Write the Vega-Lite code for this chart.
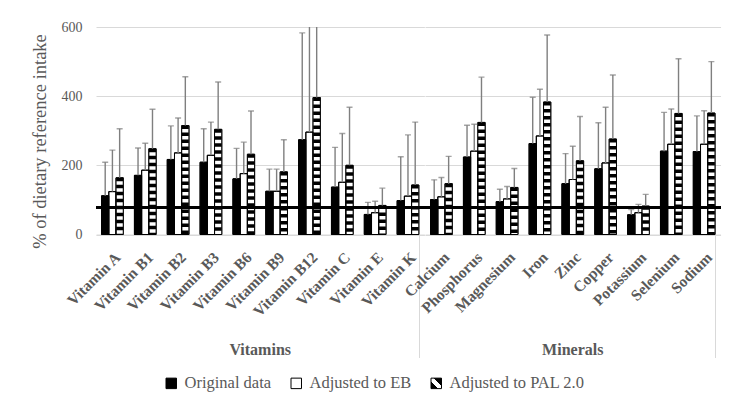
{
  "$schema": "https://vega.github.io/schema/vega-lite/v6.json",
  "background": "white",
  "padding": {"left": 30, "top": 20, "right": 20, "bottom": 10},
  "data": {"values": [
    {"nutrient": "Vitamin A", "group": "Vitamins", "series": "Original data", "value": 112, "upper": 209},
    {"nutrient": "Vitamin A", "group": "Vitamins", "series": "Adjusted to EB", "value": 124, "upper": 244},
    {"nutrient": "Vitamin A", "group": "Vitamins", "series": "Adjusted to PAL 2.0", "value": 164, "upper": 306},
    {"nutrient": "Vitamin B1", "group": "Vitamins", "series": "Original data", "value": 171, "upper": 250},
    {"nutrient": "Vitamin B1", "group": "Vitamins", "series": "Adjusted to EB", "value": 186, "upper": 264},
    {"nutrient": "Vitamin B1", "group": "Vitamins", "series": "Adjusted to PAL 2.0", "value": 248, "upper": 362},
    {"nutrient": "Vitamin B2", "group": "Vitamins", "series": "Original data", "value": 217, "upper": 314},
    {"nutrient": "Vitamin B2", "group": "Vitamins", "series": "Adjusted to EB", "value": 236, "upper": 337},
    {"nutrient": "Vitamin B2", "group": "Vitamins", "series": "Adjusted to PAL 2.0", "value": 315, "upper": 456},
    {"nutrient": "Vitamin B3", "group": "Vitamins", "series": "Original data", "value": 209, "upper": 306},
    {"nutrient": "Vitamin B3", "group": "Vitamins", "series": "Adjusted to EB", "value": 229, "upper": 325},
    {"nutrient": "Vitamin B3", "group": "Vitamins", "series": "Adjusted to PAL 2.0", "value": 304, "upper": 441},
    {"nutrient": "Vitamin B6", "group": "Vitamins", "series": "Original data", "value": 161, "upper": 249},
    {"nutrient": "Vitamin B6", "group": "Vitamins", "series": "Adjusted to EB", "value": 176, "upper": 267},
    {"nutrient": "Vitamin B6", "group": "Vitamins", "series": "Adjusted to PAL 2.0", "value": 232, "upper": 357},
    {"nutrient": "Vitamin B9", "group": "Vitamins", "series": "Original data", "value": 125, "upper": 189},
    {"nutrient": "Vitamin B9", "group": "Vitamins", "series": "Adjusted to EB", "value": 125, "upper": 189},
    {"nutrient": "Vitamin B9", "group": "Vitamins", "series": "Adjusted to PAL 2.0", "value": 181, "upper": 274},
    {"nutrient": "Vitamin B12", "group": "Vitamins", "series": "Original data", "value": 274, "upper": 583},
    {"nutrient": "Vitamin B12", "group": "Vitamins", "series": "Adjusted to EB", "value": 296, "upper": 700},
    {"nutrient": "Vitamin B12", "group": "Vitamins", "series": "Adjusted to PAL 2.0", "value": 396, "upper": 760},
    {"nutrient": "Vitamin C", "group": "Vitamins", "series": "Original data", "value": 137, "upper": 252},
    {"nutrient": "Vitamin C", "group": "Vitamins", "series": "Adjusted to EB", "value": 151, "upper": 292},
    {"nutrient": "Vitamin C", "group": "Vitamins", "series": "Adjusted to PAL 2.0", "value": 200, "upper": 368},
    {"nutrient": "Vitamin E", "group": "Vitamins", "series": "Original data", "value": 58, "upper": 93},
    {"nutrient": "Vitamin E", "group": "Vitamins", "series": "Adjusted to EB", "value": 63, "upper": 96},
    {"nutrient": "Vitamin E", "group": "Vitamins", "series": "Adjusted to PAL 2.0", "value": 84, "upper": 134},
    {"nutrient": "Vitamin K", "group": "Vitamins", "series": "Original data", "value": 98, "upper": 225},
    {"nutrient": "Vitamin K", "group": "Vitamins", "series": "Adjusted to EB", "value": 111, "upper": 288},
    {"nutrient": "Vitamin K", "group": "Vitamins", "series": "Adjusted to PAL 2.0", "value": 143, "upper": 325},
    {"nutrient": "Calcium", "group": "Minerals", "series": "Original data", "value": 101, "upper": 158},
    {"nutrient": "Calcium", "group": "Minerals", "series": "Adjusted to EB", "value": 109, "upper": 165},
    {"nutrient": "Calcium", "group": "Minerals", "series": "Adjusted to PAL 2.0", "value": 147, "upper": 226},
    {"nutrient": "Phosphorus", "group": "Minerals", "series": "Original data", "value": 224, "upper": 316},
    {"nutrient": "Phosphorus", "group": "Minerals", "series": "Adjusted to EB", "value": 241, "upper": 319},
    {"nutrient": "Phosphorus", "group": "Minerals", "series": "Adjusted to PAL 2.0", "value": 324, "upper": 455},
    {"nutrient": "Magnesium", "group": "Minerals", "series": "Original data", "value": 95, "upper": 131},
    {"nutrient": "Magnesium", "group": "Minerals", "series": "Adjusted to EB", "value": 103, "upper": 139},
    {"nutrient": "Magnesium", "group": "Minerals", "series": "Adjusted to PAL 2.0", "value": 136, "upper": 191},
    {"nutrient": "Iron", "group": "Minerals", "series": "Original data", "value": 263, "upper": 397},
    {"nutrient": "Iron", "group": "Minerals", "series": "Adjusted to EB", "value": 285, "upper": 420},
    {"nutrient": "Iron", "group": "Minerals", "series": "Adjusted to PAL 2.0", "value": 383, "upper": 577},
    {"nutrient": "Zinc", "group": "Minerals", "series": "Original data", "value": 147, "upper": 234},
    {"nutrient": "Zinc", "group": "Minerals", "series": "Adjusted to EB", "value": 159, "upper": 255},
    {"nutrient": "Zinc", "group": "Minerals", "series": "Adjusted to PAL 2.0", "value": 213, "upper": 341},
    {"nutrient": "Copper", "group": "Minerals", "series": "Original data", "value": 190, "upper": 323},
    {"nutrient": "Copper", "group": "Minerals", "series": "Adjusted to EB", "value": 207, "upper": 368},
    {"nutrient": "Copper", "group": "Minerals", "series": "Adjusted to PAL 2.0", "value": 276, "upper": 461},
    {"nutrient": "Potassium", "group": "Minerals", "series": "Original data", "value": 57, "upper": 72},
    {"nutrient": "Potassium", "group": "Minerals", "series": "Adjusted to EB", "value": 63, "upper": 87},
    {"nutrient": "Potassium", "group": "Minerals", "series": "Adjusted to PAL 2.0", "value": 82, "upper": 116},
    {"nutrient": "Selenium", "group": "Minerals", "series": "Original data", "value": 241, "upper": 353},
    {"nutrient": "Selenium", "group": "Minerals", "series": "Adjusted to EB", "value": 261, "upper": 363},
    {"nutrient": "Selenium", "group": "Minerals", "series": "Adjusted to PAL 2.0", "value": 350, "upper": 508},
    {"nutrient": "Sodium", "group": "Minerals", "series": "Original data", "value": 240, "upper": 343},
    {"nutrient": "Sodium", "group": "Minerals", "series": "Adjusted to EB", "value": 261, "upper": 358},
    {"nutrient": "Sodium", "group": "Minerals", "series": "Adjusted to PAL 2.0", "value": 351, "upper": 500}
  ]},
  "facet": {
    "column": {
      "field": "group", "type": "nominal", "sort": ["Vitamins", "Minerals"], "title": null,
      "header": {"labelOrient": "bottom", "labelFont": "Liberation Serif", "labelFontWeight": "bold", "labelFontSize": 16, "labelColor": "#595959", "labelPadding": 107}
    }
  },
  "spacing": 0,
  "bounds": "flush",
  "resolve": {"scale": {"x": "independent", "xOffset": "independent"}},
  "spec": {
    "width": {"step": 32.84, "for": "position"},
    "height": 207.5,
    "layer": [
      {
        "mark": {"type": "bar", "stroke": "black", "strokeWidth": 1},
        "encoding": {
          "x": {"field": "nutrient", "type": "nominal", "sort": null,
            "scale": {"paddingInner": 0.34, "paddingOuter": 0.17},
            "axis": {"title": null, "labelAngle": -45, "labelFontWeight": "bold", "labelFontSize": 15.5, "labelPadding": -108,
              "ticks": true, "tickBand": "extent", "tickOffset": 5.58, "tickSize": 123, "tickColor": "#d9d9d9", "tickWidth": 1,
              "tickOpacity": {"condition": {"test": "datum.index !== -1 && (datum.value === 'Vitamin K' || datum.value === 'Sodium')", "value": 1}, "value": 0},
              "domainColor": "#d9d9d9"}},
          "xOffset": {"field": "series", "type": "nominal",
            "scale": {"domain": ["Original data", "Adjusted to EB", "Adjusted to PAL 2.0"], "paddingInner": 0, "paddingOuter": 0}},
          "y": {"field": "value", "type": "quantitative",
            "scale": {"domain": [0, 600], "nice": false},
            "axis": {"title": "% of dietary reference intake", "values": [0, 100, 200, 300, 400, 500, 600], "ticks": false, "domain": false, "labelPadding": 14, "titleFontSize": 18.5, "titleFontWeight": "normal", "titlePadding": 12, "titleY": 114, "gridColor": "#d9d9d9"}},
          "fill": {"field": "series", "type": "nominal",
            "scale": {"domain": ["Original data", "Adjusted to EB", "Adjusted to PAL 2.0"],
              "range": ["black", "white", {"expr": "{gradient: 'linear', x1: 1, y1: 0, x2: 0, y2: 1, stops: [{offset: 0, color: 'black'}, {offset: 0.36, color: 'black'}, {offset: 0.36, color: 'white'}, {offset: 0.64, color: 'white'}, {offset: 0.64, color: 'black'}, {offset: 1, color: 'black'}]}"}]},
            "legend": {"title": null, "orient": "none", "legendX": 67, "legendY": 348,
              "encode": {"symbols": {"update": {"stroke": {"value": "black"}, "strokeWidth": {"value": 1}}}}}
          }
        }
      },
      {
        "transform": [{"filter": "datum.series === 'Adjusted to PAL 2.0'"}],
        "mark": {"type": "bar", "fill": "white", "stroke": null},
        "encoding": {
          "x": {"field": "nutrient", "type": "nominal", "sort": null},
          "xOffset": {"field": "series", "type": "nominal"},
          "y": {"field": "value", "type": "quantitative"}
        }
      },
      {
        "transform": [{"filter": "datum.series === 'Adjusted to PAL 2.0'"}],
        "mark": {"type": "rule", "color": "black", "strokeWidth": 7, "strokeDash": [3.5, 3.5]},
        "encoding": {
          "x": {"field": "nutrient", "type": "nominal", "sort": null},
          "xOffset": {"field": "series", "type": "nominal"},
          "y": {"field": "value", "type": "quantitative"},
          "y2": {"datum": 0}
        }
      },
      {
        "mark": {"type": "bar", "fillOpacity": 0, "stroke": "black", "strokeWidth": 1},
        "encoding": {
          "x": {"field": "nutrient", "type": "nominal", "sort": null},
          "xOffset": {"field": "series", "type": "nominal"},
          "y": {"field": "value", "type": "quantitative"}
        }
      },
      {
        "mark": {"type": "rule", "color": "#7f7f7f", "strokeWidth": 1.4, "clip": true},
        "encoding": {
          "x": {"field": "nutrient", "type": "nominal", "sort": null},
          "xOffset": {"field": "series", "type": "nominal"},
          "y": {"field": "value", "type": "quantitative"},
          "y2": {"field": "upper"}
        }
      },
      {
        "mark": {"type": "tick", "orient": "horizontal", "color": "#7f7f7f", "size": 6, "thickness": 1.4, "clip": true},
        "encoding": {
          "x": {"field": "nutrient", "type": "nominal", "sort": null},
          "xOffset": {"field": "series", "type": "nominal"},
          "y": {"field": "upper", "type": "quantitative"}
        }
      },
      {
        "mark": {"type": "rule", "color": "black", "strokeWidth": 3},
        "encoding": {"y": {"datum": 78}}
      }
    ]
  },
  "config": {
    "font": "Liberation Serif",
    "view": {"stroke": null},
    "axis": {"labelFont": "Liberation Serif", "labelColor": "#595959", "labelFontSize": 14, "titleFont": "Liberation Serif", "titleColor": "#595959", "gridColor": "#d9d9d9"},
    "legend": {"direction": "horizontal", "labelFont": "Liberation Serif", "labelFontSize": 16.5, "labelColor": "#595959", "symbolType": "square", "symbolSize": 110, "symbolStrokeColor": "black", "symbolStrokeWidth": 1, "columnPadding": 16, "labelOffset": 5}
  }
}
